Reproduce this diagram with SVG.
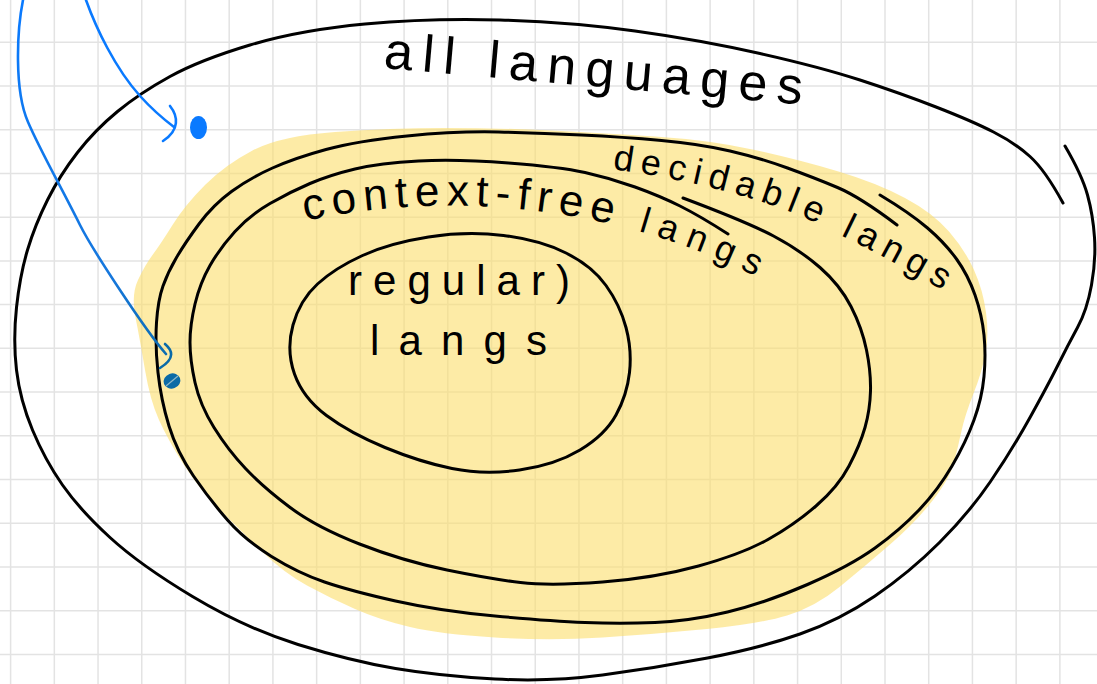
<svg xmlns="http://www.w3.org/2000/svg" width="1097" height="684" viewBox="0 0 1097 684">
  <defs>
    <style>
      .grid { stroke: #e3e3e3; stroke-width: 1.5; fill: none; }
      .ink { stroke: #000; stroke-width: 3; fill: none; stroke-linecap: round; stroke-linejoin: round; }
      .lbl { font-family: 'Liberation Sans', Arial, sans-serif; fill: #000; }
      .blue { fill: none; stroke-width: 2.6; stroke-linecap: round; stroke-linejoin: round; }
    </style>
    <linearGradient id="g2" gradientUnits="userSpaceOnUse" x1="0" y1="0" x2="0" y2="370">
      <stop offset="0" stop-color="#0a7aff"/>
      <stop offset="0.75" stop-color="#1677dc"/>
      <stop offset="1" stop-color="#0a6aa8"/>
    </linearGradient>
    <path id="p-dec" d="M 612,169 Q 760,190 842,236 Q 900,264 962,302"/>
    <path id="p-cf" d="M 305,221 Q 460,188 620,226 Q 705,248 782,290"/>
  </defs>

  <rect x="0" y="0" width="1097" height="684" fill="#ffffff"/>

  <g id="grid">
    <path class="grid" d="M10.6,0V684 M54.32,0V684 M98.04,0V684 M141.76,0V684 M185.48,0V684 M229.2,0V684 M272.92,0V684 M316.64,0V684 M360.36,0V684 M404.08,0V684 M447.8,0V684 M491.52,0V684 M535.24,0V684 M578.96,0V684 M622.68,0V684 M666.4,0V684 M710.12,0V684 M753.84,0V684 M797.56,0V684 M841.28,0V684 M885,0V684 M928.72,0V684 M972.44,0V684 M1016.16,0V684 M1059.88,0V684 M0,42.3H1097 M0,86.02H1097 M0,129.74H1097 M0,173.46H1097 M0,217.18H1097 M0,260.9H1097 M0,304.62H1097 M0,348.34H1097 M0,392.06H1097 M0,435.78H1097 M0,479.5H1097 M0,523.22H1097 M0,566.94H1097 M0,610.66H1097 M0,654.38H1097"/>
  </g>

  <g id="node-all-languages">
    <path class="ink" d="M 1065,146 Q 1082,175 1087.5,195 Q 1093,215 1094.5,237.5 Q 1096,260 1091.5,285 Q 1087,310 1077.5,327.5 Q 1068,345 1058,365 Q 1048,385 1030,417.5 Q 1012,450 990.5,481.5 Q 969,513 939.5,542.5 Q 910,572 875,596 Q 840,620 800,634 Q 760,648 707.5,658 Q 655,668 602.5,675 Q 550,682 495,679 Q 440,676 395.5,668.5 Q 351,661 298,644.5 Q 245,628 192.5,596.5 Q 140,565 110,537.5 Q 80,510 62.5,485 Q 45,460 32.5,430 Q 20,400 16.5,370 Q 13,340 16.5,307.5 Q 20,275 27.5,250 Q 35,225 47.5,200 Q 60,175 77.5,152.5 Q 95,130 117.5,111.5 Q 140,93 170,76.5 Q 200,60 250,45 Q 300,30 365,24 Q 430,18 500,20 Q 570,22 635,31 Q 700,40 760,53.5 Q 820,67 860,80 Q 900,93 936,107 Q 972,121 993.5,132 Q 1015,143 1030,156.5 Q 1045,170 1063,203"/>
    <text class="lbl" x="383" y="68" font-size="52" textLength="420" lengthAdjust="spacing" transform="rotate(5 383 68)">all languages</text>
  </g>

  <g id="node-decidable">
    <path fill="#fcde6b" fill-opacity="0.6" d="M 252.5,150.5 Q 280,136 335,132 Q 390,128 445,128 Q 500,128 550,130.5 Q 600,133 655,136.5 Q 710,140 755,150 Q 800,160 838.5,171.5 Q 877,183 905,198 Q 933,213 949,231.5 Q 965,250 974,270 Q 983,290 986,312.5 Q 989,335 985.5,353.5 Q 982,372 973.5,393.5 Q 965,415 961.5,431 Q 958,447 954,462.5 Q 950,478 933,500 Q 916,522 890,544.5 Q 864,567 839.5,587 Q 815,607 787,615.5 Q 759,624 707,629 Q 655,634 602.5,637.5 Q 550,641 495,637.5 Q 440,634 410,627 Q 380,620 355,609 Q 330,598 307,585.5 Q 284,573 262,551.5 Q 240,530 220,510 Q 200,490 184,465 Q 168,440 159,420 Q 150,400 145,370 Q 140,340 135.5,317.5 Q 131,295 138,280 Q 145,265 152.5,255 Q 160,245 172.5,225 Q 185,205 205,185 Q 225,165 252.5,150.5 Z"/>
    <path class="ink" d="M 880,195 Q 910,213 927.5,228 Q 945,243 956.5,259 Q 968,275 975,295 Q 982,315 984,335 Q 986,355 984,376.5 Q 982,398 974,420 Q 966,442 952,466 Q 938,490 919,510 Q 900,530 875,548 Q 850,566 807.5,584.5 Q 765,603 727.5,612 Q 690,621 655,622.5 Q 620,624 585,622.5 Q 550,621 495,616 Q 440,611 395.5,601 Q 351,591 324.5,582 Q 298,573 271.5,556.5 Q 245,540 227.5,520 Q 210,500 193.5,476 Q 177,452 169,426 Q 161,400 158,372.5 Q 155,345 156.5,322.5 Q 158,300 163,286 Q 168,272 176.5,257.5 Q 185,243 199,224 Q 213,205 231.5,191.5 Q 250,178 272.5,168 Q 295,158 326,149.5 Q 357,141 407,136 Q 457,131 498.5,132 Q 540,133 581.5,135 Q 623,137 661.5,140.5 Q 700,144 730,151 Q 760,158 787.5,168 Q 815,178 837.5,187.5 Q 860,197 897,225"/>
    <text class="lbl" font-size="36" letter-spacing="7.5"><textPath href="#p-dec">decidable langs</textPath></text>
  </g>

  <g id="node-context-free">
    <path class="ink" d="M 683,198 Q 747,222 773.5,236 Q 800,250 820,267.5 Q 840,285 851,306.5 Q 862,328 866.5,350 Q 871,372 870.5,391 Q 870,410 865,427.5 Q 860,445 849,466 Q 838,487 816,506 Q 794,525 768,539.5 Q 742,554 698.5,566 Q 655,578 602.5,582 Q 550,586 520.5,582.5 Q 491,579 447,570 Q 403,561 359.5,544 Q 316,527 289.5,507 Q 263,487 245.5,468.5 Q 228,450 214,427.5 Q 200,405 195,382.5 Q 190,360 190,342.5 Q 190,325 195,304 Q 200,283 210,265.5 Q 220,248 235,231.5 Q 250,215 270,203.5 Q 290,192 310,183.5 Q 330,175 355,169 Q 380,163 418.5,161 Q 457,159 508.5,163 Q 560,167 585,172.5 Q 610,178 635,187 Q 660,196 680,206 Q 700,216 728,234"/>
    <text class="lbl"><textPath href="#p-cf"><tspan font-size="44" letter-spacing="7">context-free</tspan><tspan font-size="36" letter-spacing="10"> langs</tspan></textPath></text>
  </g>

  <g id="node-regular">
    <path class="ink" d="M 428.5,237 Q 467,231 503.5,235.5 Q 540,240 566,253 Q 592,266 606,285.5 Q 620,305 626,327.5 Q 632,350 629.5,372.5 Q 627,395 616,415 Q 605,435 580,450 Q 555,465 519.5,470 Q 484,475 452,468.5 Q 420,462 385,447.5 Q 350,433 326.5,415.5 Q 303,398 294.5,374 Q 286,350 293,325 Q 300,300 317.5,284 Q 335,268 362.5,255.5 Q 390,243 428.5,237 Z"/>
    <text class="lbl" x="348" y="295" font-size="42" textLength="222" lengthAdjust="spacing">regular)</text>
    <text class="lbl" x="370" y="355" font-size="42" textLength="177" lengthAdjust="spacing">langs</text>
  </g>

  <g id="node-point-outside">
    <ellipse cx="198.5" cy="127.5" rx="8.5" ry="11.5" fill="#0a7aff"/>
  </g>

  <g id="node-point-decidable">
    <ellipse cx="172" cy="381" rx="8.5" ry="7.5" transform="rotate(-20 172 381)" fill="#0b6aa6"/>
    <path d="M 166,386 L 178,376" stroke="#8fb8c9" stroke-width="1.2" fill="none"/>
  </g>

  <g id="connectors">
    <path class="blue" stroke="#0a7aff" d="M 86,0 C 96,28 115,68 140,96 C 150,107 162,118 174,127"/>
    <path class="blue" stroke="#0a7aff" d="M 170,106 C 178,116 180,130 163,141"/>
    <path class="blue" stroke="url(#g2)" d="M 23,0 C 17,30 14,90 28,122 C 40,150 60,185 80,225 C 92,249 145,330 166,354"/>
    <path class="blue" stroke="#0a6aa8" d="M 165,344 C 172,350 176,358 160,368"/>
  </g>
</svg>
